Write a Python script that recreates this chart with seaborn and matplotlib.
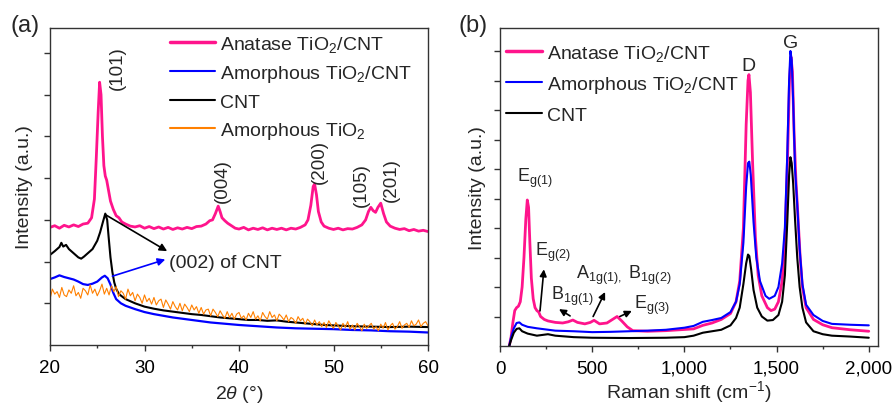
import numpy as np
import matplotlib
matplotlib.use("Agg")
import matplotlib.pyplot as plt
from matplotlib.ticker import MultipleLocator, FuncFormatter
import seaborn as sns

# ================= data: XRD (panel a) =================
anatase_2theta = [20.0, 20.5, 21.0, 21.5, 22.0, 22.5, 23.0, 23.5, 24.0, 24.4, 24.7, 24.9, 25.1, 25.25,
                  25.4, 25.55, 25.7, 25.85, 26.0, 26.2, 26.4, 26.7, 27.0, 27.3, 27.6, 28.0, 28.5, 29.0,
                  29.5, 30.0, 30.5, 31.0, 31.5, 32.0, 32.5, 33.0, 33.5, 34.0, 34.5, 35.0, 35.5, 36.0,
                  36.5, 36.9, 37.2, 37.5, 37.8, 38.0, 38.2, 38.5, 38.8, 39.2, 39.6, 40.0, 40.5, 41.0,
                  41.5, 42.0, 42.5, 43.0, 43.5, 44.0, 44.5, 45.0, 45.5, 46.0, 46.5, 47.0, 47.3, 47.6,
                  47.85, 48.0, 48.2, 48.4, 48.7, 49.0, 49.5, 50.0, 50.5, 51.0, 51.5, 52.0, 52.5, 53.0,
                  53.4, 53.7, 53.95, 54.2, 54.45, 54.7, 55.0, 55.3, 55.6, 56.0, 56.5, 57.0, 57.5, 58.0,
                  58.5, 59.0, 59.5, 60.0]
anatase_xrd = [2.82, 2.86, 2.80, 2.87, 2.83, 2.88, 2.84, 2.90, 2.92, 3.05, 3.50, 4.50, 5.60, 6.30,
               6.00, 5.00, 4.30, 4.05, 3.95, 3.70, 3.45, 3.25, 3.10, 3.05, 2.95, 2.90, 2.85, 2.83,
               2.86, 2.80, 2.84, 2.79, 2.83, 2.78, 2.82, 2.77, 2.81, 2.78, 2.82, 2.79, 2.84, 2.85,
               2.90, 2.98, 3.00, 3.15, 3.33, 3.20, 3.05, 2.98, 2.92, 2.86, 2.80, 2.78, 2.82, 2.76,
               2.80, 2.77, 2.81, 2.76, 2.80, 2.77, 2.80, 2.76, 2.80, 2.78, 2.82, 2.88, 3.00, 3.35,
               3.80, 3.86, 3.60, 3.20, 2.95, 2.85, 2.80, 2.77, 2.80, 2.76, 2.79, 2.78, 2.82, 2.88,
               3.00, 3.20, 3.30, 3.22, 3.18, 3.30, 3.40, 3.15, 2.95, 2.85, 2.80, 2.77, 2.79, 2.74,
               2.77, 2.73, 2.75, 2.72]

amorph_cnt_2theta = [20.0, 20.5, 21.0, 21.5, 22.0, 22.5, 23.0, 23.5, 24.0, 24.5, 25.0, 25.5, 25.8,
                     26.1, 26.4, 26.7, 27.0, 27.5, 28.0, 29.0, 30.0, 31.0, 32.0, 33.0, 34.0, 35.0,
                     36.0, 37.0, 38.0, 39.0, 40.0, 42.0, 44.0, 46.0, 48.0, 50.0, 52.0, 54.0, 56.0,
                     58.0, 60.0]
amorph_cnt_xrd = [1.58, 1.62, 1.67, 1.63, 1.60, 1.57, 1.52, 1.46, 1.44, 1.47, 1.52, 1.62, 1.66,
                  1.60, 1.45, 1.25, 1.10, 1.00, 0.94, 0.86, 0.79, 0.74, 0.70, 0.66, 0.63, 0.60,
                  0.57, 0.54, 0.52, 0.50, 0.48, 0.45, 0.42, 0.40, 0.39, 0.38, 0.36, 0.35, 0.33,
                  0.32, 0.30]

cnt_2theta = [20.0, 20.5, 21.0, 21.2, 21.4, 21.7, 22.0, 22.5, 23.0, 23.3, 23.6, 24.0, 24.5, 25.0,
              25.3, 25.6, 25.85, 26.05, 26.2, 26.4, 26.6, 26.8, 27.0, 27.3, 27.7, 28.0, 29.0, 30.0,
              31.0, 32.0, 33.0, 34.0, 35.0, 36.0, 37.0, 38.0, 39.0, 40.0, 41.0, 42.0, 43.0, 44.0,
              45.0, 46.0, 47.0, 48.0, 49.0, 50.0, 52.0, 54.0, 56.0, 58.0, 60.0]
cnt_xrd = [2.16, 2.25, 2.35, 2.45, 2.36, 2.40, 2.30, 2.20, 2.10, 2.07, 2.12, 2.20, 2.30, 2.50,
           2.70, 2.95, 3.15, 3.00, 2.60, 2.10, 1.75, 1.50, 1.35, 1.22, 1.15, 1.10, 1.00, 0.92,
           0.87, 0.83, 0.80, 0.77, 0.74, 0.72, 0.69, 0.66, 0.64, 0.62, 0.60, 0.60, 0.58, 0.59,
           0.56, 0.54, 0.52, 0.50, 0.48, 0.47, 0.45, 0.44, 0.43, 0.44, 0.43]

# amorphous TiO2 is noisy: values read every 0.25 deg
tio2_2theta = [20.0] + list(np.arange(20.0, 60.001, 0.25))
tio2_xrd = [0.0,
            1.10, 1.34, 1.22, 1.28, 1.14, 1.38, 1.20, 1.16, 1.32, 1.24, 1.42, 1.18,
            1.26, 1.12, 1.36, 1.30, 1.20, 1.44, 1.24, 1.34, 1.18, 1.30, 1.46, 1.22,
            1.36, 1.20, 1.42, 1.28, 1.40, 1.16, 1.30, 1.24, 1.10, 1.34, 1.18, 1.26,
            1.06, 1.22, 1.14, 1.00, 1.20, 1.04, 1.12, 0.98, 1.14, 0.96, 1.06, 1.10,
            0.90, 1.08, 0.98, 0.86, 1.04, 0.92, 0.84, 1.00, 0.82, 0.98, 0.90, 0.80,
            0.96, 0.84, 0.92, 0.76, 0.90, 0.74, 0.84, 0.86, 0.70, 0.86, 0.78, 0.68,
            0.82, 0.72, 0.64, 0.80, 0.66, 0.76, 0.62, 0.74, 0.78, 0.64, 0.70, 0.60,
            0.76, 0.66, 0.80, 0.62, 0.70, 0.58, 0.78, 0.68, 0.62, 0.80, 0.66, 0.72,
            0.58, 0.74, 0.68, 0.60, 0.72, 0.56, 0.66, 0.62, 0.52, 0.68, 0.58, 0.64,
            0.50, 0.62, 0.56, 0.46, 0.60, 0.48, 0.56, 0.44, 0.54, 0.42, 0.58, 0.48,
            0.40, 0.54, 0.46, 0.36, 0.52, 0.42, 0.56, 0.38, 0.48, 0.36, 0.52, 0.44,
            0.34, 0.50, 0.40, 0.46, 0.52, 0.38, 0.44, 0.34, 0.50, 0.40, 0.54, 0.36,
            0.46, 0.52, 0.38, 0.44, 0.56, 0.40, 0.48, 0.52, 0.42, 0.58, 0.46, 0.50,
            0.60, 0.44, 0.52, 0.56, 0.46]

# ================= data: Raman (panel b) =================
anatase_shift = [50, 60, 70, 80, 90, 100, 110, 120, 130, 140, 148, 155, 162, 170, 180, 190, 200,
                 210, 220, 240, 260, 300, 340, 370, 395, 420, 460, 490, 510, 540, 580, 610, 635,
                 660, 690, 720, 800, 900, 1000, 1050, 1100, 1150, 1200, 1250, 1280, 1300, 1320,
                 1335, 1345, 1350, 1358, 1370, 1385, 1400, 1420, 1450, 1470, 1490, 1510, 1530,
                 1545, 1560, 1570, 1578, 1586, 1595, 1605, 1615, 1628, 1640, 1660, 1700, 1750,
                 1800, 1900, 2000]
anatase_raman = [0.0, 0.3, 0.8, 1.2, 1.3, 1.35, 1.5, 2.0, 3.0, 4.3, 4.95, 4.7, 3.5, 2.3, 1.6,
                 1.3, 1.2, 1.15, 1.0, 0.9, 0.85, 0.8, 0.78, 0.82, 0.88, 0.8, 0.75, 0.8, 0.87,
                 0.75, 0.78, 0.9, 1.0, 0.85, 0.65, 0.52, 0.5, 0.52, 0.56, 0.58, 0.7, 0.78, 0.9,
                 1.1, 1.5, 2.2, 4.0, 7.5, 9.0, 9.2, 8.6, 6.2, 3.7, 2.4, 1.7, 1.3, 1.2, 1.25, 1.5,
                 2.2, 3.5, 6.5, 9.0, 9.8, 9.3, 7.2, 5.6, 4.5, 3.0, 2.0, 1.3, 0.9, 0.72, 0.62,
                 0.55, 0.5]

amorph_cnt_shift = [50, 60, 75, 90, 105, 120, 150, 200, 300, 400, 500, 600, 700, 800, 900, 1000,
                    1050, 1100, 1150, 1200, 1250, 1280, 1300, 1320, 1335, 1345, 1352, 1360, 1375,
                    1390, 1410, 1440, 1460, 1490, 1510, 1530, 1545, 1558, 1568, 1575, 1582, 1590,
                    1600, 1612, 1625, 1640, 1660, 1700, 1750, 1800, 1900, 2000]
amorph_cnt_raman = [0.0, 0.3, 0.6, 0.78, 0.8, 0.72, 0.65, 0.6, 0.52, 0.5, 0.47, 0.48, 0.5, 0.52,
                    0.55, 0.62, 0.68, 0.82, 0.88, 0.95, 1.15, 1.5, 2.1, 3.5, 5.4, 6.2, 6.25, 5.8,
                    4.2, 3.0, 2.2, 1.7, 1.6, 1.7, 2.0, 2.8, 4.0, 6.5, 9.0, 10.0, 9.7, 8.3, 6.0,
                    4.8, 3.3, 2.1, 1.4, 1.05, 0.85, 0.75, 0.72, 0.7]

cnt_shift = [50, 60, 75, 90, 105, 120, 150, 200, 260, 300, 400, 500, 700, 900, 1000, 1050, 1100,
             1150, 1200, 1250, 1280, 1300, 1320, 1335, 1345, 1352, 1362, 1375, 1395, 1420, 1450,
             1480, 1510, 1530, 1545, 1558, 1568, 1575, 1582, 1590, 1600, 1612, 1625, 1640, 1660,
             1700, 1750, 1800, 1900, 2000]
cnt_raman = [0.0, 0.2, 0.45, 0.58, 0.6, 0.5, 0.42, 0.35, 0.4, 0.35, 0.3, 0.28, 0.27, 0.28, 0.3,
             0.35, 0.45, 0.5, 0.55, 0.7, 0.95, 1.3, 2.1, 2.8, 3.1, 3.05, 2.6, 1.9, 1.3, 1.0, 0.86,
             0.88, 1.05, 1.5, 2.4, 4.2, 5.8, 6.4, 6.2, 5.5, 4.3, 3.0, 2.0, 1.3, 0.8, 0.5, 0.4,
             0.35, 0.32, 0.28]

PINK = "#FF148C"
BLUE = "#0000FF"
ORANGE = "#FF8000"
BLACK = "#000000"

# ================= style =================
sns.set_style("ticks")
plt.rcParams['font.family'] = ['Liberation Sans', 'DejaVu Sans']
plt.rcParams['mathtext.fontset'] = 'custom'
plt.rcParams['mathtext.rm'] = 'Liberation Sans'
plt.rcParams['mathtext.it'] = 'Liberation Sans:italic'
plt.rcParams['mathtext.sf'] = 'Liberation Sans'
plt.rcParams['axes.edgecolor'] = '#333333'
plt.rcParams['xtick.color'] = '#333333'
plt.rcParams['ytick.color'] = '#333333'
plt.rcParams['xtick.labelcolor'] = 'black'

fig = plt.figure(figsize=(8.93, 4.06), dpi=100)
ax1 = fig.add_axes([50 / 893, 60 / 406, 378 / 893, 317 / 406])
ax2 = fig.add_axes([500 / 893, 59 / 406, 378 / 893, 318 / 406])


def line(ax, x, y, color, lw, label):
    sns.lineplot(x=x, y=y, ax=ax, color=color, lw=lw, label=label, sort=False, estimator=None)


def style_axis(ax):
    for s in ax.spines.values():
        s.set_linewidth(1.0)
        s.set_visible(True)
    ax.tick_params(which='major', direction='out', length=4, width=1, labelsize=13.5, pad=6)
    ax.tick_params(which='minor', direction='out', length=2.5, width=1)
    ax.tick_params(axis='y', which='both', labelleft=False)
    ax.tick_params(top=False, right=False)


# ---------- (a) XRD ----------
line(ax1, anatase_2theta, anatase_xrd, PINK, 2.0, "Anatase TiO$_2$/CNT")
line(ax1, amorph_cnt_2theta, amorph_cnt_xrd, BLUE, 1.6, "Amorphous TiO$_2$/CNT")
line(ax1, cnt_2theta, cnt_xrd, BLACK, 1.5, "CNT")
line(ax1, tio2_2theta, tio2_xrd, ORANGE, 0.8, "Amorphous TiO$_2$")

ax1.set_xlim(20, 60)
ax1.set_ylim(0, 7.6)
ax1.xaxis.set_major_locator(MultipleLocator(10))
ax1.xaxis.set_minor_locator(MultipleLocator(5))
ax1.set_yticks([1, 2, 3, 4, 5, 6, 7])
style_axis(ax1)
ax1.set_xlabel(r"2$\theta$ (°)", fontsize=14, labelpad=5)
ax1.set_ylabel("Intensity (a.u.)", fontsize=14, labelpad=8)

leg1 = ax1.legend(loc='upper left', bbox_to_anchor=(0.281, 1.025), frameon=False, fontsize=14,
                  handlelength=2.3, handletextpad=0.3, labelspacing=0.47, borderpad=0.2)
for h, w in zip(leg1.get_lines(), [2.5, 1.5, 1.5, 1.5]):
    h.set_linewidth(w)

for txt, xx, yy in [("(101)", 27.1, 6.65), ("(004)", 38.2, 3.95), ("(200)", 48.5, 4.4),
                    ("(105)", 53.0, 3.87), ("(201)", 56.1, 3.97)]:
    ax1.text(xx, yy, txt, rotation=90, ha='center', va='center', fontsize=13.5)

ax1.text(32.6, 1.97, "(002) of CNT", ha='left', va='center', fontsize=14)
ax1.annotate("", xy=(32.4, 2.25), xytext=(25.9, 3.12),
             arrowprops=dict(arrowstyle='-|>', color=BLACK, lw=1.2, mutation_scale=11,
                             shrinkA=0, shrinkB=0))
ax1.annotate("", xy=(32.2, 2.05), xytext=(26.6, 1.65),
             arrowprops=dict(arrowstyle='-|>', color=BLUE, lw=1.2, mutation_scale=11,
                             shrinkA=0, shrinkB=0))

# ---------- (b) Raman ----------
line(ax2, anatase_shift, anatase_raman, PINK, 2.0, "Anatase TiO$_2$/CNT")
line(ax2, amorph_cnt_shift, amorph_cnt_raman, BLUE, 1.5, "Amorphous TiO$_2$/CNT")
line(ax2, cnt_shift, cnt_raman, BLACK, 1.5, "CNT")

ax2.set_xlim(0, 2050)
ax2.set_ylim(0, 10.78)
ax2.xaxis.set_major_locator(MultipleLocator(500))
ax2.xaxis.set_minor_locator(MultipleLocator(250))
ax2.xaxis.set_major_formatter(FuncFormatter(lambda v, _: f"{int(v):,}"))
ax2.set_yticks(list(range(1, 11)))
style_axis(ax2)
ax2.set_xlabel(r"Raman shift (cm$^{-1}$)", fontsize=14, labelpad=1)
ax2.set_ylabel("Intensity (a.u.)", fontsize=14, labelpad=6)

leg2 = ax2.legend(loc='upper left', bbox_to_anchor=(-0.021, 0.995), frameon=False, fontsize=14,
                  handlelength=1.85, handletextpad=0.3, labelspacing=0.56, borderpad=0.2)
for h, w in zip(leg2.get_lines(), [2.5, 1.5, 1.5]):
    h.set_linewidth(w)

ax2.text(1350, 9.5, "D", ha='center', va='center', fontsize=14)
ax2.text(1577, 10.3, "G", ha='center', va='center', fontsize=14)
ax2.text(90, 5.7, r"E$_{\mathrm{g(1)}}$", ha='left', va='center', fontsize=13)
ax2.text(190, 3.2, r"E$_{\mathrm{g(2)}}$", ha='left', va='center', fontsize=13)
ax2.text(278, 1.7, r"B$_{\mathrm{1g(1)}}$", ha='left', va='center', fontsize=13)
ax2.text(410, 2.44, r"A$_{\mathrm{1g(1),}}$ B$_{\mathrm{1g(2)}}$", ha='left', va='center', fontsize=13)
ax2.text(725, 1.42, r"E$_{\mathrm{g(3)}}$", ha='left', va='center', fontsize=13)

arrow_kw = dict(arrowstyle='-|>', color=BLACK, lw=1.2, mutation_scale=10, shrinkA=0, shrinkB=0)
ax2.annotate("", xy=(238, 2.6), xytext=(217, 1.19), arrowprops=arrow_kw)
ax2.annotate("", xy=(320, 1.25), xytext=(380, 1.02), arrowprops=arrow_kw)
ax2.annotate("", xy=(570, 1.83), xytext=(505, 1.0), arrowprops=arrow_kw)
ax2.annotate("", xy=(715, 1.19), xytext=(650, 1.0), arrowprops=arrow_kw)

fig.text(10 / 893, 1 - 26 / 406, "(a)", fontsize=17, ha='left', va='center')
fig.text(459 / 893, 1 - 26 / 406, "(b)", fontsize=17, ha='left', va='center')

fig.savefig("out.png", dpi=100)
